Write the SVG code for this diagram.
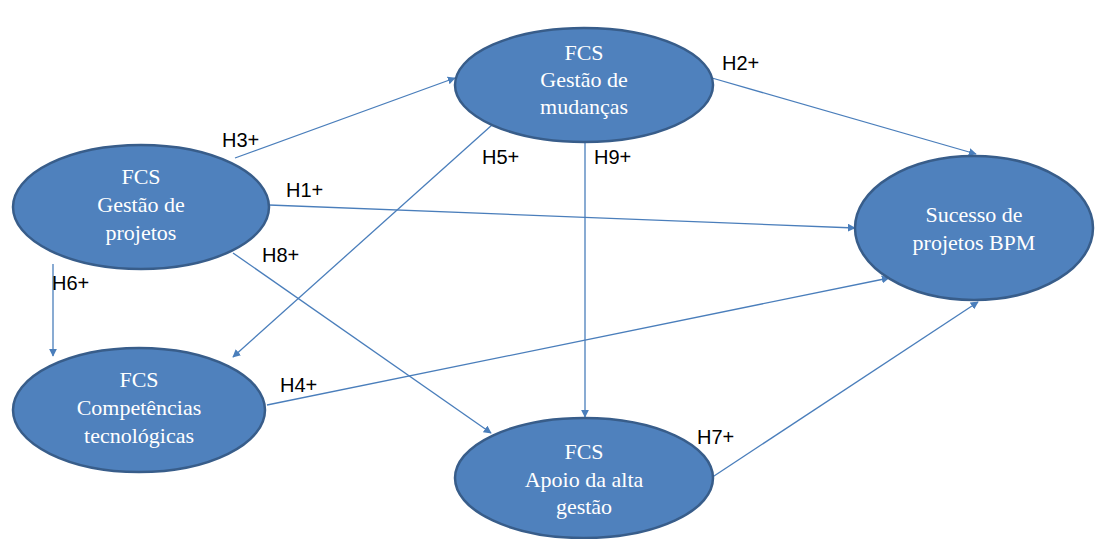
<svg xmlns="http://www.w3.org/2000/svg" width="1100" height="539" viewBox="0 0 1100 539">
<style>
.node ellipse{fill:#4F81BD;stroke:#385D8A;stroke-width:2.5}
.node text{font-family:"Liberation Serif","Times New Roman",serif;font-size:22px;fill:#FFFFFF;text-anchor:middle}
.edge line{stroke:#4A7EBB;stroke-width:1.3;marker-end:url(#ah)}
.lbl{font-family:"Liberation Sans",Arial,sans-serif;font-size:20px;fill:#000}
</style>
<defs>
<marker id="ah" viewBox="0 0 10 10" refX="9" refY="5" markerWidth="8" markerHeight="8" markerUnits="userSpaceOnUse" orient="auto">
<path d="M0,0 L10,5 L0,10 z" fill="#4A7EBB"/>
</marker>
</defs>
<rect width="1100" height="539" fill="#FFFFFF"/>
<g id="connectors" class="edge">
<line x1="235" y1="158" x2="455" y2="78"/>
<line x1="269" y1="205" x2="855" y2="228"/>
<line x1="712" y1="78" x2="976" y2="154"/>
<line x1="492" y1="125" x2="233" y2="357"/>
<line x1="585" y1="141" x2="585" y2="417"/>
<line x1="233" y1="253" x2="491" y2="433"/>
<line x1="53" y1="264" x2="53" y2="356"/>
<line x1="267" y1="405" x2="889" y2="278"/>
<line x1="711" y1="478" x2="978" y2="302"/>
</g>
<g id="labels">
<text class="lbl" x="222" y="147">H3+</text>
<text class="lbl" x="286" y="197">H1+</text>
<text class="lbl" x="722" y="70">H2+</text>
<text class="lbl" x="482" y="164">H5+</text>
<text class="lbl" x="594" y="164">H9+</text>
<text class="lbl" x="262" y="262">H8+</text>
<text class="lbl" x="52" y="290">H6+</text>
<text class="lbl" x="280" y="392">H4+</text>
<text class="lbl" x="697" y="444">H7+</text>
</g>
<g id="n1" class="node">
<ellipse cx="141" cy="207" rx="128" ry="62"/>
<text x="141" y="184">FCS</text>
<text x="141" y="212">Gestão de</text>
<text x="141" y="240">projetos</text>
</g>
<g id="n2" class="node">
<ellipse cx="584" cy="85" rx="129" ry="57"/>
<text x="584" y="60">FCS</text>
<text x="584" y="87">Gestão de</text>
<text x="584" y="114">mudanças</text>
</g>
<g id="n3" class="node">
<ellipse cx="974" cy="228" rx="119" ry="72"/>
<text x="974" y="222">Sucesso de</text>
<text x="974" y="250">projetos BPM</text>
</g>
<g id="n4" class="node">
<ellipse cx="139" cy="410" rx="126" ry="62"/>
<text x="139" y="387">FCS</text>
<text x="139" y="415">Competências</text>
<text x="139" y="443">tecnológicas</text>
</g>
<g id="n5" class="node">
<ellipse cx="584" cy="478" rx="129" ry="60"/>
<text x="584" y="459">FCS</text>
<text x="584" y="487">Apoio da alta</text>
<text x="584" y="514">gestão</text>
</g>
</svg>
